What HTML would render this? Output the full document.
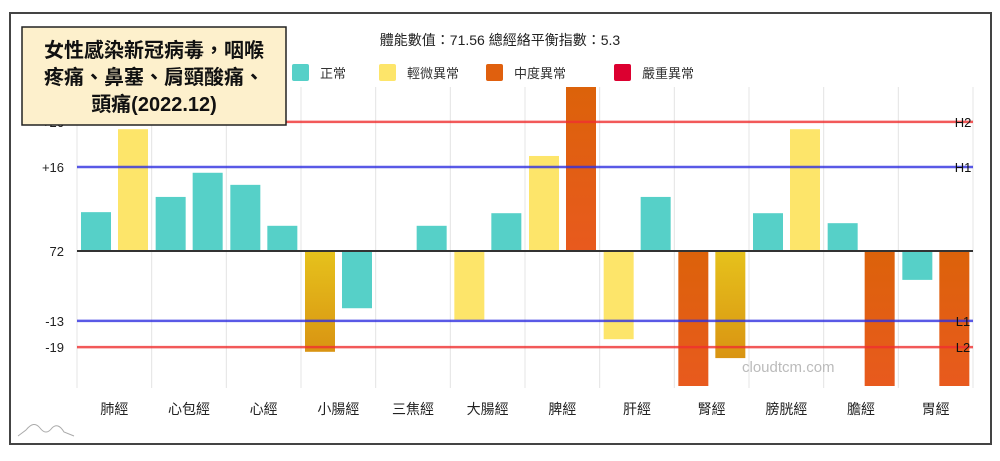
<!DOCTYPE html>
<html><head><meta charset="utf-8"><style>
body{margin:0;background:#fff;}
svg text{font-family:"Liberation Sans","Noto Sans CJK TC",sans-serif;}
</style></head><body>
<svg width="1000" height="456" viewBox="0 0 1000 456" xmlns="http://www.w3.org/2000/svg">
<defs>
<linearGradient id="gOr" x1="0" y1="0" x2="0" y2="1"><stop offset="0" stop-color="#dc620a"/><stop offset="1" stop-color="#e85a1e"/></linearGradient>
<linearGradient id="gGold" x1="0" y1="0" x2="0" y2="1"><stop offset="0" stop-color="#e6c21c"/><stop offset="1" stop-color="#d99412"/></linearGradient>
</defs>
<rect x="10" y="13" width="981" height="431" fill="#fff" stroke="#444" stroke-width="2"/>
<text x="500" y="45" text-anchor="middle" font-size="14" fill="#222">體能數值：71.56 總經絡平衡指數：5.3</text>
<g id="legend"></g>
<g id="grid"></g><g id="bars"></g><g id="refs"></g><g id="labels"></g>
<text x="742" y="372" font-size="15" fill="#bbb">cloudtcm.com</text>
<path d="M18 436 L26 430 Q34 420 40 428 Q46 436 52 428 Q58 422 64 432 L74 436" fill="none" stroke="#aaa" stroke-width="1"/>
<rect x="22" y="27" width="264" height="98" fill="#fdf0cc" stroke="#222" stroke-width="1.5"/>
<text font-size="20" font-weight="bold" fill="#111" text-anchor="middle"><tspan x="154" y="57">女性感染新冠病毒，咽喉</tspan><tspan x="154" y="84">疼痛、鼻塞、肩頸酸痛、</tspan><tspan x="154" y="111">頭痛(2022.12)</tspan></text>
</svg>
<script>
const categories=["肺經","心包經","心經","小腸經","三焦經","大腸經","脾經","肝經","腎經","膀胱經","膽經","胃經"];
const leftValues=[7.4,10.3,12.6,-19.2,0,-13.1,18.1,-16.8,-30,7.2,5.3,-5.5];
const rightValues=[23.2,14.9,4.8,-10.9,4.8,7.2,35,10.3,-20.4,23.2,-30,-30];
const leftStatus=["n","n","n","g","n","y","y","y","o","n","n","n"];
const rightStatus=["y","n","n","n","n","n","o","n","g","y","o","o"];
const refValues=[24.6,16,-13.3,-18.3];
const refNames=["H2","H1","L1","L2"];
const refColors=["#f03030","#3030e0","#3030e0","#f03030"];
const yTicks=[24.6,16,0,-13.3,-18.3];
const yTickLabels=["+26","+16","72","-13","-19"];
const legendNames=["正常","輕微異常","中度異常","嚴重異常"];
const legendColors=["#56d0c8","#fde56a","#e0600e","#dc0030"];
const colorMap={n:"#56d0c8",y:"#fde56a",o:"url(#gOr)",g:"url(#gGold)"};
const NS="http://www.w3.org/2000/svg";
const X0=77,X1=973,Y0=251,PPU=5.25,YT=87,YB=386;
const cw=(X1-X0)/categories.length;
const y=v=>Math.max(YT,Math.min(YB,Y0-v*PPU));
function mk(tag,attrs,parent){const e=document.createElementNS(NS,tag);for(const k in attrs)e.setAttribute(k,attrs[k]);document.getElementById(parent).appendChild(e);return e;}
const lx=[292,379,486,614];
legendNames.forEach((n,i)=>{
 const r=mk("rect",{x:lx[i],y:64,width:17,height:17,rx:2,fill:legendColors[i]},"legend");
 
 
 const t=mk("text",{x:lx[i]+28,y:78,"font-size":13,fill:"#333"},"legend");t.textContent=n;
 
 
});
for(let i=0;i<=categories.length;i++){
 const l=mk("line",{x1:X0+i*cw,x2:X0+i*cw,y1:87,y2:388,stroke:"#e4e4e4","stroke-width":1},"grid");
 
 
}
categories.forEach((c,i)=>{
 const cx=X0+i*cw;
 [[leftValues[i],leftStatus[i],4],[rightValues[i],rightStatus[i],41]].forEach(([v,s,off],k)=>{
  if(v===0)return;
  const y1=y(v);const top=Math.min(y1,Y0),h=Math.abs(y1-Y0);
  const b=mk("rect",{x:cx+off,y:top,width:30,height:h,fill:colorMap[s]},"bars");
  
  
 });
 const t=mk("text",{x:cx+cw/2,y:414,"text-anchor":"middle","font-size":14,fill:"#222"},"labels");t.textContent=c;
 
 
});
const bl=mk("line",{x1:X0,x2:X1,y1:Y0,y2:Y0,stroke:"#333","stroke-width":2},"refs");


refValues.forEach((v,i)=>{
 const l=mk("line",{x1:X0,x2:X1,y1:y(v),y2:y(v),stroke:refColors[i],"stroke-width":2.5,opacity:0.8},"refs");
 
 
 const t=mk("text",{x:963,y:y(v)+5,"text-anchor":"middle","font-size":13,fill:"#111"},"refs");t.textContent=refNames[i];
 
 
});
yTicks.forEach((v,i)=>{
 const t=mk("text",{x:64,y:y(v)+5,"text-anchor":"end","font-size":13,fill:"#222"},"labels");t.textContent=yTickLabels[i];
 
 
});
</script>
</body></html>
